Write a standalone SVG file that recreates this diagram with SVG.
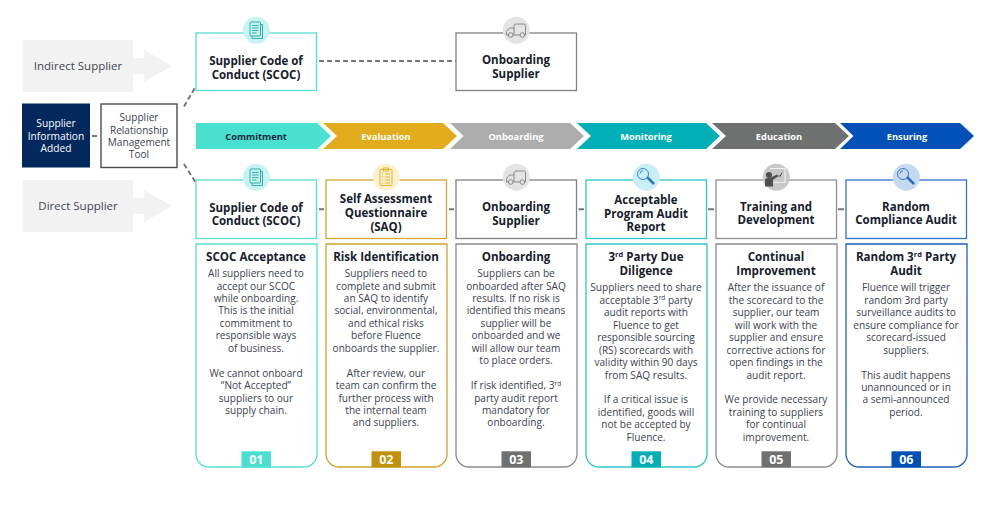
<svg xmlns="http://www.w3.org/2000/svg" width="1000" height="516" viewBox="0 0 1000 516">
<style>
text{font-family:"Open Sans","Noto Sans",sans-serif;text-anchor:middle}
.t{font-size:11.5px;font-weight:700;fill:#16202c}
.h{font-size:11.6px;font-weight:700;fill:#16202c}
.b{font-size:10.1px;fill:#3b4250}
.s{font-size:11.5px;fill:#3f4450}
.w{font-size:10.2px;fill:#fff}
.c{font-size:9.3px;font-weight:700;fill:#fff}
.n{font-size:12.5px;font-weight:700;fill:#fff}
.box{fill:#fff;stroke-width:1.3}
.con{fill:none;stroke:#777;stroke-width:2}
.ic{fill:none;stroke-width:.9}
.sup{fill:#f2f2f2}
</style>
<defs>
<path id="card" d="M0 0H121V210a13 13 0 0 1-13 13H13a13 13 0 0 1-13-13Z" fill="#fff" stroke-width="1.300"/>
<g id="doc"><rect x="-6" y="-8" width="10.500" height="14" rx="1"/><path d="M4.500-5.500H6.500V8.500H-4V6M-4-4.500H2.500M-4-2H2.500M-4 .5H2.500M-4 3H.5"/></g>
<g id="clip"><rect x="-6" y="-8" width="12" height="16" rx="1"/><rect x="-2.500" y="-9.500" width="5" height="3"/><path d="M-4-3.500H-2.800M-1-3.500H4M-4-.5H-2.800M-1-.5H4M-4 2.500H-2.800M-1 2.500H4M-4 5.500H-2.800M-1 5.500H4"/></g>
<g id="truck"><path d="M-7.500 4.500H-9.500V1L-6.500-2.500H-2V4.500H-3M-2-2.500V-4.500Q-2-6.500 0-6.500H8Q9.500-6.500 9.500-5V4.500H8.500M-2 4.500H4"/><circle cx="-5.300" cy="4.500" r="2.300"/><circle cx="6.300" cy="4.500" r="2.300"/></g>
<g id="lens"><circle cx="-3" cy="-3.500" r="5.500"/><path d="M-6-4A3.200 3.200 0 0 1-3-6.800"/><path d="M1-.5 8 6.500" stroke-width="2.500"/></g>
<g id="trainer"><path d="M-6-9H9V5H-3" fill="none" stroke="#f0f0f0" stroke-width="1.200"/><path d="M1 0 3-2 4-1 6-5" fill="none" stroke="#555" stroke-width="1"/><circle cx="-7" cy="-2.500" r="3" fill="#4f4f4f"/><path d="M-11 9V2.500Q-11 .5-8 .5H-6L1-3 2-1.500-3 2.500V9Z" fill="#4f4f4f"/></g>
</defs>
<g id="connectors">
<path class="con" stroke-dasharray="5 3" d="M319 61H456"/>
<path class="con" stroke-dasharray="5 3" d="M184 106.500 196 86M184 164 196 183"/>
<path class="con" d="M92 136H97M319 209.300H324M449 209.300H454M578.500 209.300H584M708 209.300H714M838 209.300H844"/>
</g>
<g id="indirect-supplier"><path class="sup" d="M23 40H133V92H23Z"/><path class="sup" d="M133 58H144V50L172 66 144 82V74H133Z"/><text class="s" x="78" y="70">Indirect Supplier</text></g>
<g id="direct-supplier"><path class="sup" d="M23 180H133V232H23Z"/><path class="sup" d="M133 198H144V190L172 206 144 222V214H133Z"/><text class="s" x="78" y="210">Direct Supplier</text></g>
<g id="info-added"><rect x="22" y="103.500" width="68" height="64" fill="#03285c"/><text class="w" x="56" y="127">Supplier</text><text class="w" x="56" y="139.500">Information</text><text class="w" x="56" y="152">Added</text></g>
<g id="srm-tool"><rect x="101" y="104" width="76" height="63.500" fill="#fff" stroke="#4d4a52" stroke-width="1.400"/><text class="b" x="139" y="121">Supplier</text><text class="b" x="139" y="133.500">Relationship</text><text class="b" x="139" y="146">Management</text><text class="b" x="139" y="158">Tool</text></g>
<g id="chevrons">
<path fill="#4ae0d0" d="M196 123H317L331 136 317 149H196Z"/><text class="c" style="fill:#16283c" x="256" y="139.500">Commitment</text>
<path fill="#e0ac1c" d="M323 123H443L457 136 443 149H323L337 136Z"/><text class="c" x="386" y="139.500">Evaluation</text>
<path fill="#adadad" d="M450 123H570L584 136 570 149H450L463.500 136Z"/><text class="c" x="516" y="139.500">Onboarding</text>
<path fill="#00b0b6" d="M577 123H706L720 136 706 149H577L591 136Z"/><text class="c" x="646" y="139.500">Monitoring</text>
<path fill="#6f7070" d="M712 123H835L849 136 835 149H712L726 136Z"/><text class="c" x="779" y="139.500">Education</text>
<path fill="#0050b8" d="M840 123H960L974 136 960 149H840L853.500 136Z"/><text class="c" x="907" y="139.500">Ensuring</text>
</g>
<g id="top-scoc"><rect class="box" x="196" y="33" width="120.500" height="57.500" stroke="#55dfd2"/><circle cx="256.300" cy="30.300" r="13.500" fill="#c9f3ee"/><use href="#doc" x="256" y="30" class="ic" stroke="#1fa6a6"/><text class="t" x="256" y="65">Supplier Code of</text><text class="t" x="256" y="78.500">Conduct (SCOC)</text></g>
<g id="top-onboarding"><rect class="box" x="456" y="33" width="120.500" height="57.500" stroke="#808080"/><circle cx="516.300" cy="30.300" r="13.500" fill="#e3e3e3"/><use href="#truck" x="516" y="30.500" class="ic" stroke="#808080"/><text class="t" x="516" y="64">Onboarding</text><text class="t" x="516" y="77.500">Supplier</text></g>

<g id="step-01"><rect class="box" x="196" y="180" width="120.500" height="58.500" stroke="#55dfd2"/><circle cx="256.300" cy="177.300" r="13.500" fill="#c9f3ee"/><use href="#doc" x="256" y="177" class="ic" stroke="#1fa6a6"/><text class="t" x="256" y="212">Supplier Code of</text><text class="t" x="256" y="225.300">Conduct (SCOC)</text></g>
<g id="step-02"><rect class="box" x="326" y="180" width="120.500" height="58.500" stroke="#d2a62e"/><circle cx="386.300" cy="177.300" r="13.500" fill="#fdf0cc"/><use href="#clip" x="386" y="177.500" class="ic" stroke="#e0ac1c"/><text class="t" x="386" y="202.700">Self Assessment</text><text class="t" x="386" y="216.700">Questionnaire</text><text class="t" x="386" y="230.700">(SAQ)</text></g>
<g id="step-03"><rect class="box" x="456" y="180" width="120.500" height="58.500" stroke="#808080"/><circle cx="516.300" cy="177.300" r="13.500" fill="#e3e3e3"/><use href="#truck" x="516" y="177.500" class="ic" stroke="#808080"/><text class="t" x="516" y="211">Onboarding</text><text class="t" x="516" y="225">Supplier</text></g>
<g id="step-04"><rect class="box" x="586" y="180" width="120.500" height="58.500" stroke="#2cc6cd"/><circle cx="646.300" cy="177.300" r="13.500" fill="#c9eef3"/><use href="#lens" x="646" y="177.500" class="ic" stroke="#2a7cc7"/><text class="t" x="646" y="204">Acceptable</text><text class="t" x="646" y="217.800">Program Audit</text><text class="t" x="646" y="231.300">Report</text></g>
<g id="step-05"><rect class="box" x="716" y="180" width="120.500" height="58.500" stroke="#8f8f8f"/><circle cx="776.300" cy="177.300" r="13.500" fill="#c8c8c8"/><use href="#trainer" x="776" y="177.500"/><text class="t" x="776" y="211">Training and</text><text class="t" x="776" y="224.300">Development</text></g>
<g id="step-06"><rect class="box" x="846" y="180" width="120.500" height="58.500" stroke="#2f72cc"/><circle cx="906.300" cy="177.300" r="13.500" fill="#c5d9f0"/><use href="#lens" x="906" y="177.500" class="ic" stroke="#2a6cc0"/><text class="t" x="906" y="211">Random</text><text class="t" x="906" y="224.300">Compliance Audit</text></g>

<g id="card-01"><use href="#card" x="196" y="244" stroke="#55dfd2"/>
<text class="h" x="256" y="260.700">SCOC Acceptance</text>
<text class="b" x="256" y="277">All suppliers need to</text><text class="b" x="256" y="289.500">accept our SCOC</text><text class="b" x="256" y="301.900">while onboarding.</text><text class="b" x="256" y="314.400">This is the initial</text><text class="b" x="256" y="326.800">commitment to</text><text class="b" x="256" y="339.300">responsible ways</text><text class="b" x="256" y="351.700">of business.</text>
<text class="b" x="256" y="376.600">We cannot onboard</text><text class="b" x="256" y="389.100">“Not Accepted”</text><text class="b" x="256" y="401.500">suppliers to our</text><text class="b" x="256" y="414">supply chain.</text>
<rect x="241.500" y="451.300" width="29.500" height="16" fill="#4ae0d0"/><text class="n" x="256.300" y="464">01</text></g>

<g id="card-02"><use href="#card" x="326" y="244" stroke="#cfa32c"/>
<text class="h" x="386" y="260.700">Risk Identification</text>
<text class="b" x="386" y="277">Suppliers need to</text><text class="b" x="386" y="289.500">complete and submit</text><text class="b" x="386" y="301.900">an SAQ to identify</text><text class="b" x="386" y="314.400">social, environmental,</text><text class="b" x="386" y="326.800">and ethical risks</text><text class="b" x="386" y="339.300">before Fluence</text><text class="b" x="386" y="351.700">onboards the supplier.</text>
<text class="b" x="386" y="376.600">After review, our</text><text class="b" x="386" y="389.100">team can confirm the</text><text class="b" x="386" y="401.500">further process with</text><text class="b" x="386" y="414">the internal team</text><text class="b" x="386" y="426.400">and suppliers.</text>
<rect x="371.500" y="451.300" width="29.500" height="16" fill="#c2910a"/><text class="n" x="386.300" y="464">02</text></g>

<g id="card-03"><use href="#card" x="456" y="244" stroke="#8a8a8a"/>
<text class="h" x="516" y="260.700">Onboarding</text>
<text class="b" x="516" y="277">Suppliers can be</text><text class="b" x="516" y="289.500">onboarded after SAQ</text><text class="b" x="516" y="301.900">results. If no risk is</text><text class="b" x="516" y="314.400">identified this means</text><text class="b" x="516" y="326.800">supplier will be</text><text class="b" x="516" y="339.300">onboarded and we</text><text class="b" x="516" y="351.700">will allow our team</text><text class="b" x="516" y="364.200">to place orders.</text>
<text class="b" x="516" y="389">If risk identified, 3<tspan font-size="6.500" dy="-3.500">rd</tspan></text><text class="b" x="516" y="401.500">party audit report</text><text class="b" x="516" y="414">mandatory for</text><text class="b" x="516" y="426.400">onboarding.</text>
<rect x="501.500" y="451.300" width="29.500" height="16" fill="#6f7070"/><text class="n" x="516.300" y="464">03</text></g>

<g id="card-04"><use href="#card" x="586" y="244" stroke="#2cc6cd"/>
<text class="h" x="646" y="260.700">3<tspan font-size="7.500" dy="-4">rd</tspan><tspan dy="4"> Party Due</tspan></text><text class="h" x="646" y="274.700">Diligence</text>
<text class="b" x="646" y="291.300">Suppliers need to share</text><text class="b" x="646" y="303.800">acceptable 3<tspan font-size="6.500" dy="-3.500">rd</tspan><tspan dy="3.500"> party</tspan></text><text class="b" x="646" y="316.200">audit reports with</text><text class="b" x="646" y="328.700">Fluence to get</text><text class="b" x="646" y="341.100">responsible sourcing</text><text class="b" x="646" y="353.600">(RS) scorecards with</text><text class="b" x="646" y="366">validity within 90 days</text><text class="b" x="646" y="378.500">from SAQ results.</text>
<text class="b" x="646" y="403.300">If a critical issue is</text><text class="b" x="646" y="415.800">identified, goods will</text><text class="b" x="646" y="428.200">not be accepted by</text><text class="b" x="646" y="440.700">Fluence.</text>
<rect x="631.500" y="451.300" width="29.500" height="16" fill="#00aeb4"/><text class="n" x="646.300" y="464">04</text></g>

<g id="card-05"><use href="#card" x="716" y="244" stroke="#8a8a8a"/>
<text class="h" x="776" y="260.700">Continual</text><text class="h" x="776" y="274.700">Improvement</text>
<text class="b" x="776" y="291.300">After the issuance of</text><text class="b" x="776" y="303.800">the scorecard to the</text><text class="b" x="776" y="316.200">supplier, our team</text><text class="b" x="776" y="328.700">will work with the</text><text class="b" x="776" y="341.100">supplier and ensure</text><text class="b" x="776" y="353.600">corrective actions for</text><text class="b" x="776" y="366">open findings in the</text><text class="b" x="776" y="378.500">audit report.</text>
<text class="b" x="776" y="403.300">We provide necessary</text><text class="b" x="776" y="415.800">training to suppliers</text><text class="b" x="776" y="428.200">for continual</text><text class="b" x="776" y="440.700">improvement.</text>
<rect x="761.500" y="451.300" width="29.500" height="16" fill="#6f7070"/><text class="n" x="776.300" y="464">05</text></g>

<g id="card-06"><use href="#card" x="846" y="244" stroke="#1f5fc0"/>
<text class="h" x="906" y="260.700">Random 3<tspan font-size="7.500" dy="-4">rd</tspan><tspan dy="4"> Party</tspan></text><text class="h" x="906" y="274.700">Audit</text>
<text class="b" x="906" y="291.300">Fluence will trigger</text><text class="b" x="906" y="303.800">random 3rd party</text><text class="b" x="906" y="316.200">surveillance audits to</text><text class="b" x="906" y="328.700">ensure compliance for</text><text class="b" x="906" y="341.100">scorecard-issued</text><text class="b" x="906" y="353.600">suppliers.</text>
<text class="b" x="906" y="378.500">This audit happens</text><text class="b" x="906" y="391">unannounced or in</text><text class="b" x="906" y="403.400">a semi-announced</text><text class="b" x="906" y="415.900">period.</text>
<rect x="891.500" y="451.300" width="29.500" height="16" fill="#0050b8"/><text class="n" x="906.300" y="464">06</text></g>
</svg>
